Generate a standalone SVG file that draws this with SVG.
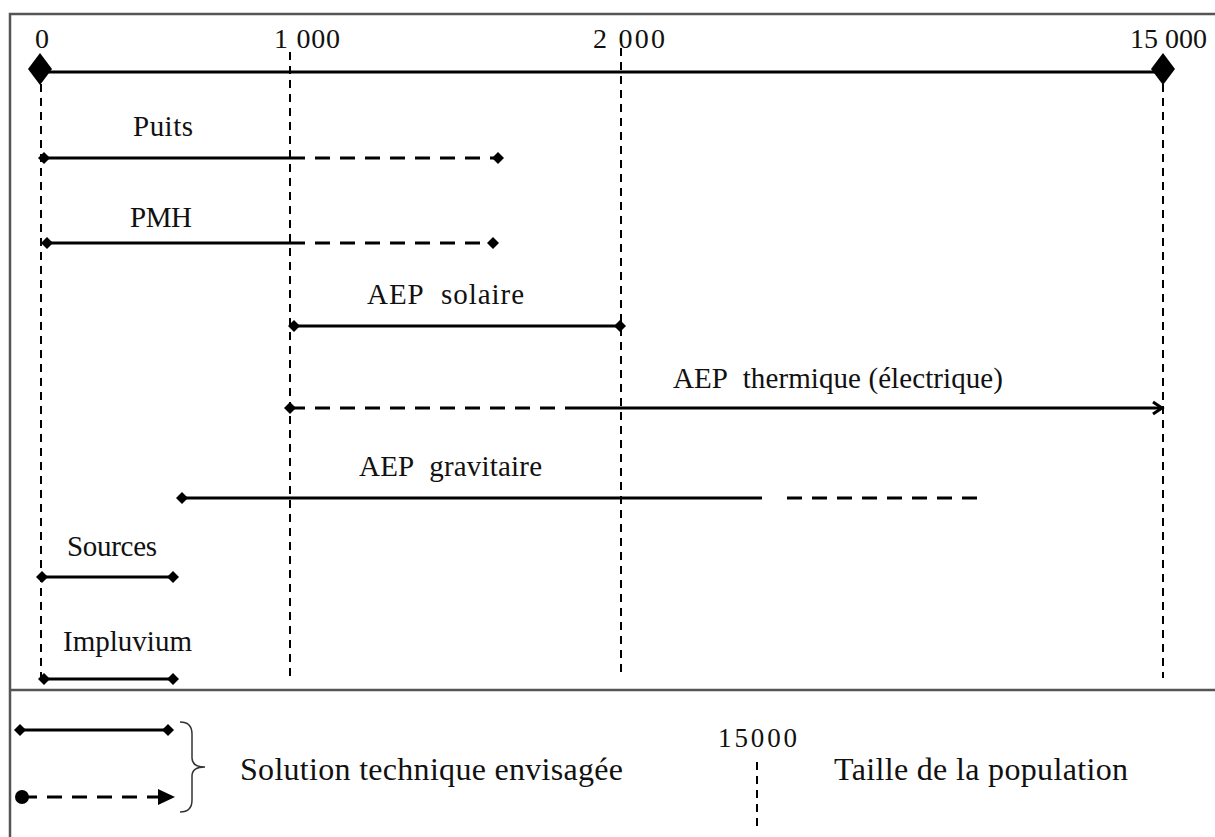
<svg xmlns="http://www.w3.org/2000/svg" xmlns:xlink="http://www.w3.org/1999/xlink" width="1215" height="837" viewBox="0 0 1215 837">
<style>
text{font-family:"Liberation Serif","Times New Roman",serif;fill:#111}
.lbl{font-size:29px}
.big{font-size:32px}
.num{font-size:28px}
.solid{stroke:#000;stroke-width:3;fill:none}
.dash{stroke:#000;stroke-width:3;fill:none;stroke-dasharray:15 10}
.grid{stroke:#000;stroke-width:2;fill:none;stroke-dasharray:8 6}
.frame{stroke:#555;stroke-width:2.5;fill:none}
</style>
<defs>
<path id="sd" d="M0,-6 L6,0 L0,6 L-6,0 Z" fill="#000"/>
<path id="bd" d="M0,-16 L12,0 L0,16 L-12,0 Z" fill="#000"/>
</defs>
<rect width="1215" height="837" fill="#fff"/>
<g id="frame">
<path class="frame" d="M10,837 L10,14 L1215,14"/>
<line class="frame" x1="10" y1="690" x2="1215" y2="690" stroke-width="3"/>
</g>
<g id="connectors">
<line class="grid" x1="41" y1="84" x2="41" y2="680"/>
<line class="grid" x1="290" y1="52" x2="290" y2="678"/>
<line class="grid" x1="621" y1="34" x2="621" y2="678"/>
<line class="grid" x1="1163" y1="84" x2="1163" y2="678"/>
</g>
<g id="axis">
<line class="solid" x1="40" y1="72" x2="1163" y2="72"/>
<use xlink:href="#bd" x="40" y="69"/>
<use xlink:href="#bd" x="1163" y="69"/>
<text class="num" x="35" y="48">0</text>
<text class="num" x="274" y="48" textLength="66">1 000</text>
<text class="num" x="593" y="48" textLength="72">2 000</text>
<text class="num" x="1130" y="48" textLength="77">15 000</text>
</g>
<g id="puits">
<text class="lbl" x="133" y="136" textLength="60">Puits</text>
<line class="solid" x1="44" y1="158" x2="290" y2="158"/>
<line class="dash" x1="290" y1="158" x2="497" y2="158"/>
<use xlink:href="#sd" x="44" y="158"/>
<use xlink:href="#sd" x="498" y="158"/>
</g>
<g id="pmh">
<text class="lbl" x="130" y="227" textLength="62">PMH</text>
<line class="solid" x1="47" y1="243" x2="290" y2="243"/>
<line class="dash" x1="290" y1="243" x2="491" y2="243"/>
<use xlink:href="#sd" x="47" y="243"/>
<use xlink:href="#sd" x="493" y="243"/>
</g>
<g id="aep-solaire">
<text class="lbl" x="367" y="304" textLength="157">AEP&#160; solaire</text>
<line class="solid" x1="294" y1="326" x2="621" y2="326"/>
<use xlink:href="#sd" x="294" y="326"/>
<use xlink:href="#sd" x="620" y="326"/>
</g>
<g id="aep-thermique">
<text class="lbl" x="673" y="388" textLength="330">AEP&#160; thermique (électrique)</text>
<line class="dash" x1="290" y1="408" x2="578" y2="408"/>
<line class="solid" x1="578" y1="408" x2="1161" y2="408"/>
<path class="solid" d="M1153,402 L1162,408 L1153,414" stroke-width="2.5"/>
<use xlink:href="#sd" x="290" y="408"/>
</g>
<g id="aep-gravitaire">
<text class="lbl" x="359" y="476" textLength="183">AEP&#160; gravitaire</text>
<line class="solid" x1="182" y1="498" x2="762" y2="498"/>
<line class="dash" x1="787" y1="498" x2="983" y2="498"/>
<use xlink:href="#sd" x="182" y="498"/>
</g>
<g id="sources">
<text class="lbl" x="67" y="556" textLength="90">Sources</text>
<line class="solid" x1="42" y1="577" x2="173" y2="577"/>
<use xlink:href="#sd" x="42" y="577"/>
<use xlink:href="#sd" x="173" y="577"/>
</g>
<g id="impluvium">
<text class="lbl" x="63" y="651" textLength="129">Impluvium</text>
<line class="solid" x1="44" y1="679" x2="173" y2="679"/>
<use xlink:href="#sd" x="44" y="679"/>
<use xlink:href="#sd" x="173" y="679"/>
</g>
<g id="legend">
<line class="solid" x1="20" y1="730" x2="168" y2="730"/>
<use xlink:href="#sd" x="20" y="730"/>
<use xlink:href="#sd" x="168" y="730"/>
<circle cx="22" cy="797" r="7" fill="#000"/>
<line class="dash" x1="22" y1="797" x2="160" y2="797"/>
<path d="M158,789 L175,797 L158,805 Z" fill="#000"/>
<path d="M180,722 Q192,722 192,734 L192,758 Q192,767 205,767 Q192,767 192,776 L192,800 Q192,812 180,812" fill="none" stroke="#333" stroke-width="1.5"/>
<text class="big" x="240" y="780" textLength="383">Solution technique envisagée</text>
<text x="718" y="747" font-size="27" textLength="79">15000</text>
<line class="grid" x1="757" y1="762" x2="757" y2="830"/>
<text class="big" x="834" y="780" textLength="294">Taille de la population</text>
</g>
</svg>
